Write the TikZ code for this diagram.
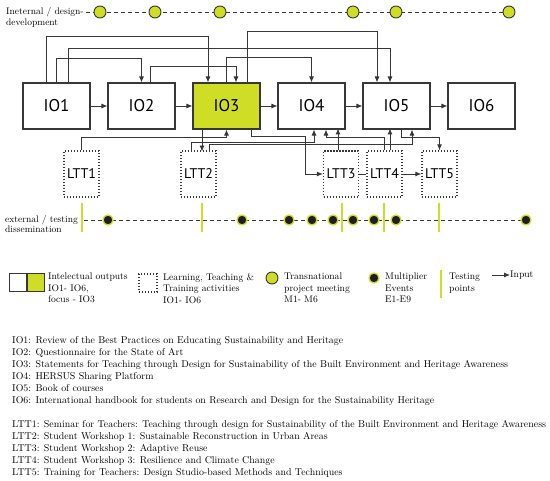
\documentclass[tikz,border=0pt]{standalone}
\usepackage{fontspec}
\newfontfamily\boxfont{PT Sans}
\usepackage{tikz}
\usetikzlibrary{arrows.meta,positioning}
\definecolor{ioyellow}{RGB}{207,221,38}
\definecolor{linegray}{RGB}{55,55,55}

\begin{document}
\begin{tikzpicture}[x=1pt,y=-1pt,font=\fontsize{9.9}{12}\selectfont,
      io/.style={draw=linegray,line width=1.1pt,minimum width=67pt,minimum height=46pt,inner sep=0pt,
                 font=\boxfont\fontsize{17}{17}\selectfont},
      ltt/.style={draw=linegray,line width=1.2pt,dash pattern=on 1.2pt off 1.8pt,minimum width=35pt,
                  minimum height=46pt,inner sep=0pt,font=\boxfont\fontsize{14}{14}\selectfont},
      cn/.style={linegray,line width=0.9pt},
      arr/.style={cn,-{Latex[length=6pt,width=5pt]}},
      tl/.style={linegray,line width=0.8pt,dash pattern=on 4pt off 3pt},
      meet/.style={draw=linegray,fill=ioyellow,line width=0.9pt},
      mult/.style={draw=ioyellow,fill=black!88,line width=1.3pt},
      tbar/.style={ioyellow,line width=2pt},
      txt/.style={align=left,inner sep=0pt},
      key/.style={txt,anchor=north west,font=\fontsize{9.6}{11.5}\selectfont}]
    \useasboundingbox (0,0) rectangle (550,481);
    % internal / design time line
    \node[key,font=\fontsize{9.5}{11}\selectfont] (intlab) at (6,7.5) {Ineternal / design-\\development};
    \draw[tl] (86,12) -- (509,12);
    \foreach \x in {100,155,220,353,396,509}
      \path[meet] (\x,12) circle[radius=6pt];
    % intellectual outputs
    \node[io]               (IO1) at (56.5,106)  {IO1};
    \node[io]               (IO2) at (141.5,106) {IO2};
    \node[io,fill=ioyellow] (IO3) at (226.5,106) {IO3};
    \node[io]               (IO4) at (311.5,106) {IO4};
    \node[io]               (IO5) at (396.5,106) {IO5};
    \node[io]               (IO6) at (481.5,106) {IO6};
    \foreach \a/\b in {IO1/IO2,IO2/IO3,IO3/IO4,IO4/IO5,IO5/IO6}
      \draw[arr] (\a) -- (\b);
    % inputs over the boxes
    \draw[arr] ([xshift=-10.5pt]IO1.north) -- ++(0,-46) -| ([xshift=-18.5pt]IO3.north);
    \draw[arr] (IO1.north) -- ++(0,-24) -| (IO2.north);
    \draw[arr] ([xshift=11.5pt]IO1.north) -- ++(0,-34) -| ([xshift=-6.5pt]IO5.north);
    \draw[arr] ([xshift=8.5pt]IO2.north) -- ++(0,-16) -| ([xshift=9.5pt]IO3.north);
    \draw[arr] (IO3.north) -- ++(0,-25) -| (IO4.north);
    \draw[arr] ([xshift=20.5pt]IO3.north) -- ++(0,-51) -| ([xshift=-19.5pt]IO5.north);
    % learning, teaching and training activities
    \node[ltt] (LTT1) at (81.5,174)  {LTT1};
    \node[ltt] (LTT2) at (198.5,174) {LTT2};
    \node[ltt] (LTT3) at (341,174)   {LTT3};
    \node[ltt] (LTT4) at (384.5,174) {LTT4};
    \node[ltt] (LTT5) at (439.5,174) {LTT5};
    \draw[arr] (LTT1.north) -- ++(0,-13) -| (IO3.south);
    \draw[arr] ([xshift=-24.5pt]IO3.south) -- ++(0,22);
    \draw[arr] ([xshift=-7.5pt]LTT2.north) -- ++(0,-8) -| ([xshift=2.5pt]IO4.south);
    \draw[arr] ([xshift=10.5pt]LTT2.north) -- ++(0,-6) -| ([xshift=15.5pt]IO5.south);
    \draw[arr] ([xshift=24.5pt]IO3.south) -- ++(0,7) -- ++(54,0) |- (LTT3.west);
    \draw[arr] ([xshift=-3pt]LTT3.north) -- ++(0,-22);
    \draw[arr] (LTT4.north) -- ++(0,-13) -| ([xshift=14.5pt]IO4.south);
    \draw[arr] ([xshift=5.5pt]LTT4.north) -- ++(0,-22);
    \draw[arr] ([xshift=4.5pt]IO5.south) -- ++(0,8) -| (LTT5.north);
    \draw[cn] (LTT3) -- (LTT4);
    \draw[arr] (LTT4) -- (LTT5);
    % external / testing time line
    \node[key,font=\fontsize{9.5}{10.5}\selectfont] (extlab) at (5,215) {external / testing\\dissemination};
    \draw[tl] (84,220) -- (526,220);
    \foreach \x in {82,202,342,384,439}
      \draw[tbar] (\x,203) -- (\x,232);
    \foreach \x in {108,242,289,312,333,353,374,396,526}
      \path[mult] (\x,220) circle[radius=5pt];
    % legend
    \node[io,minimum width=17pt,minimum height=18pt,line width=1pt] (keyW) at (17.5,283) {};
    \node[io,minimum width=17pt,minimum height=18pt,line width=1pt,fill=ioyellow,right=0pt of keyW] (keyY) {};
    \node[key] (keyIOtxt) at (48,273) {Intelectual outputs\\IO1- IO6,\\focus - IO3};
    \node[ltt,minimum width=18pt,minimum height=18pt] (keyL) at (148,283) {};
    \node[key] (keyLtxt) at (163,273) {Learning, Teaching \&\\Training activities\\IO1- IO6};
    \path[meet] (272,278) circle[radius=6pt];
    \node[key] (keyMtxt) at (284,273) {Transnational\\project meeting\\M1- M6};
    \path[mult] (374,278) circle[radius=5pt];
    \node[key] (keyEtxt) at (385,273) {Multiplier\\Events\\E1-E9};
    \draw[tbar] (441,270) -- (441,298);
    \node[key] (keyTtxt) at (449,273) {Testing\\points};
    \coordinate (inS) at (492,275);
    \node[txt,anchor=west,font=\fontsize{9.6}{11.5}\selectfont] (inLab) at (510,275) {Input};
    \draw[arr] (inS) -- (inLab);
    % descriptions
    \node[key,font=\fontsize{9.9}{12}\selectfont] (iodesc) at (12,336) {IO1: Review of the Best Practices on Educating Sustainability and Heritage\\
      IO2: Questionnaire for the State of Art\\
      IO3: Statements for Teaching through Design for Sustainability of the Built Environment and Heritage Awareness\\
      IO4: HERSUS Sharing Platform\\
      IO5: Book of courses\\
      IO6: International handbook for students on Research and Design for the Sustainability Heritage};
    \node[key,font=\fontsize{9.9}{12}\selectfont] (lttdesc) at (12,420) {LTT1: Seminar for Teachers: Teaching through design for Sustainability of the Built Environment and Heritage Awareness\\
      LTT2: Student Workshop 1: Sustainable Reconstruction in Urban Areas\\
      LTT3: Student Workshop 2: Adaptive Reuse\\
      LTT4: Student Workshop 3: Resilience and Climate Change\\
      LTT5: Training for Teachers: Design Studio-based Methods and Techniques};
\end{tikzpicture}
\end{document}
